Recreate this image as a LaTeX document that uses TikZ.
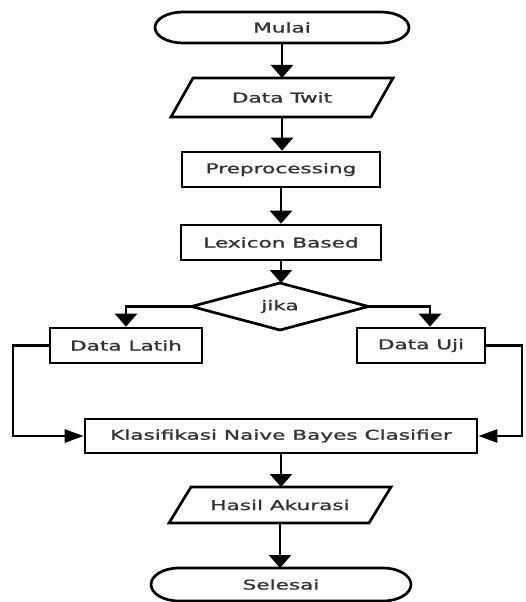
\documentclass[tikz,border=0pt]{standalone}
\usepackage{fontspec}
\setmainfont[FakeBold=1]{DejaVu Sans}
\usetikzlibrary{arrows.meta}
% wide lettering used for every label
\newcommand\wtxt[1]{\scalebox{1.6}[1]{#1}}

\begin{document}
\begin{tikzpicture}[x=1pt,y=-1pt,
  line width=2.7pt,
  lbl/.style={rectangle, inner sep=0pt, outer sep=0pt, font=\fontsize{13.5}{16}\selectfont, text=black!80},
  box/.style={lbl, draw, outer sep=1.35pt},
  varr/.style={-{Triangle[length=13pt,width=22pt]}},
  harr/.style={-{Triangle[length=19pt,width=13pt]}}]
\useasboundingbox (0,0) rectangle (525,602);

% start / end terminals
\node[lbl, minimum width=254pt, minimum height=31pt] (mulai) at (282,27.5) {\wtxt{Mulai}};
\draw ([xshift=28pt]mulai.north west) -- ([xshift=-28pt]mulai.north east)
  arc[start angle=90, end angle=-90, x radius=28pt, y radius=15.5pt]
  -- ([xshift=28pt]mulai.south west)
  arc[start angle=270, end angle=90, x radius=28pt, y radius=15.5pt] -- cycle;

\node[lbl, minimum width=260pt, minimum height=33pt] (selesai) at (281,584.5) {\wtxt{Selesai}};
\draw ([xshift=28pt]selesai.north west) -- ([xshift=-28pt]selesai.north east)
  arc[start angle=90, end angle=-90, x radius=28pt, y radius=16.5pt]
  -- ([xshift=28pt]selesai.south west)
  arc[start angle=270, end angle=90, x radius=28pt, y radius=16.5pt] -- cycle;

% input / output parallelograms
\node[lbl, minimum width=200pt, minimum height=39pt] (twit) at (282,97.5) {\wtxt{Data Twit}};
\draw ([xshift=11pt]twit.north west) -- ([xshift=11pt]twit.north east)
  -- ([xshift=-11pt]twit.south east) -- ([xshift=-11pt]twit.south west) -- cycle;

\node[lbl, minimum width=200pt, minimum height=36pt] (hasil) at (280,505) {\wtxt{Hasil Akurasi}};
\draw ([xshift=11pt]hasil.north west) -- ([xshift=11pt]hasil.north east)
  -- ([xshift=-11pt]hasil.south east) -- ([xshift=-11pt]hasil.south west) -- cycle;

% process boxes
\node[box, minimum width=198pt, minimum height=35pt] (pre) at (281,169.5) {\wtxt{Preprocessing}};
\node[box, minimum width=200pt, minimum height=35pt] (lex) at (281,242.5) {\wtxt{Lexicon Based}};
\node[box, minimum width=152pt, minimum height=35pt] (latih) at (126,345.5) {\wtxt{Data Latih}};
\node[box, minimum width=128pt, minimum height=35pt] (uji) at (421,345.5) {\wtxt{Data Uji}};
\node[box, minimum width=392pt, minimum height=34pt] (klas) at (281,436) {\wtxt{Klasifikasi Naive Bayes Clasifier}};

% decision
\node[lbl, minimum width=177pt, minimum height=47pt] (jika) at (280,306.5) {\wtxt{jika}};
\draw (jika.north) -- (jika.east) -- (jika.south) -- (jika.west) -- cycle;

% side rails of the feedback lines
\coordinate (lx) at (13,0);
\coordinate (rx) at (522,0);

% connectors
\draw[varr] (mulai.south) -- (mulai.south |- twit.north);
\draw[varr] (twit.south) -- (twit.south |- pre.north);
\draw[varr] (pre.south) -- (lex.north);
\draw[varr] (lex.south) -- (lex.south |- jika.north);
\draw[varr] (jika.west) -| (latih.north);
\draw[varr] (jika.east) -| ([xshift=9pt]uji.north);
\draw[harr] (latih.west) -- (latih.west -| lx) |- (klas.west);
\draw[harr] (uji.east) -- (uji.east -| rx) |- (klas.east);
\draw[varr] (klas.south) -- (klas.south |- hasil.north);
\draw[varr] (hasil.south) -- (hasil.south |- selesai.north);
\end{tikzpicture}
\end{document}
